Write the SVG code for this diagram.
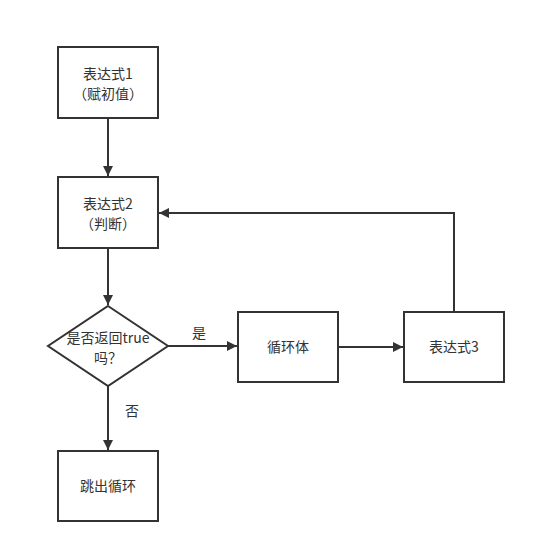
<svg xmlns="http://www.w3.org/2000/svg" width="536" height="553" viewBox="0 0 536 553">
<style>
.box{fill:#fff;stroke:#333;stroke-width:2}
.ln{fill:none;stroke:#333;stroke-width:2}
text{font-family:"Noto Sans CJK SC","Liberation Sans",sans-serif;font-size:14px;fill:#333;text-anchor:middle}
</style>
<defs>
<marker id="ah" viewBox="0 0 10 10" refX="10" refY="5" markerWidth="10" markerHeight="10" markerUnits="userSpaceOnUse" orient="auto">
<path d="M0,0 L10,5 L0,10 Z" fill="#333"/>
</marker>
</defs>
<rect width="536" height="553" fill="#fff"/>
<g id="connectors">
<path class="ln" d="M108,118 V176" marker-end="url(#ah)"/>
<path class="ln" d="M108,248 V305" marker-end="url(#ah)"/>
<path class="ln" d="M168,346 H237" marker-end="url(#ah)"/>
<path class="ln" d="M338,347 H403" marker-end="url(#ah)"/>
<path class="ln" d="M454,312 V213 H159" marker-end="url(#ah)"/>
<path class="ln" d="M108,386 V450" marker-end="url(#ah)"/>
<text x="199" y="338">是</text>
<text x="132" y="416">否</text>
</g>
<g id="n1"><rect class="box" x="58" y="47" width="100" height="71"/><text x="108" y="79">表达式1</text><text x="108" y="99">（赋初值）</text></g>
<g id="n2"><rect class="box" x="58" y="177" width="100" height="71"/><text x="108" y="209">表达式2</text><text x="108" y="229">（判断）</text></g>
<g id="n3"><path class="box" d="M108,306 L168,346 L108,386 L48,346 Z"/><text x="108" y="343">是否返回true</text><text x="108" y="363">吗？</text></g>
<g id="n4"><rect class="box" x="238" y="312" width="100" height="70"/><text x="288" y="352">循环体</text></g>
<g id="n5"><rect class="box" x="404" y="312" width="100" height="70"/><text x="454" y="352">表达式3</text></g>
<g id="n6"><rect class="box" x="58" y="451" width="100" height="70"/><text x="108" y="491">跳出循环</text></g>
</svg>
